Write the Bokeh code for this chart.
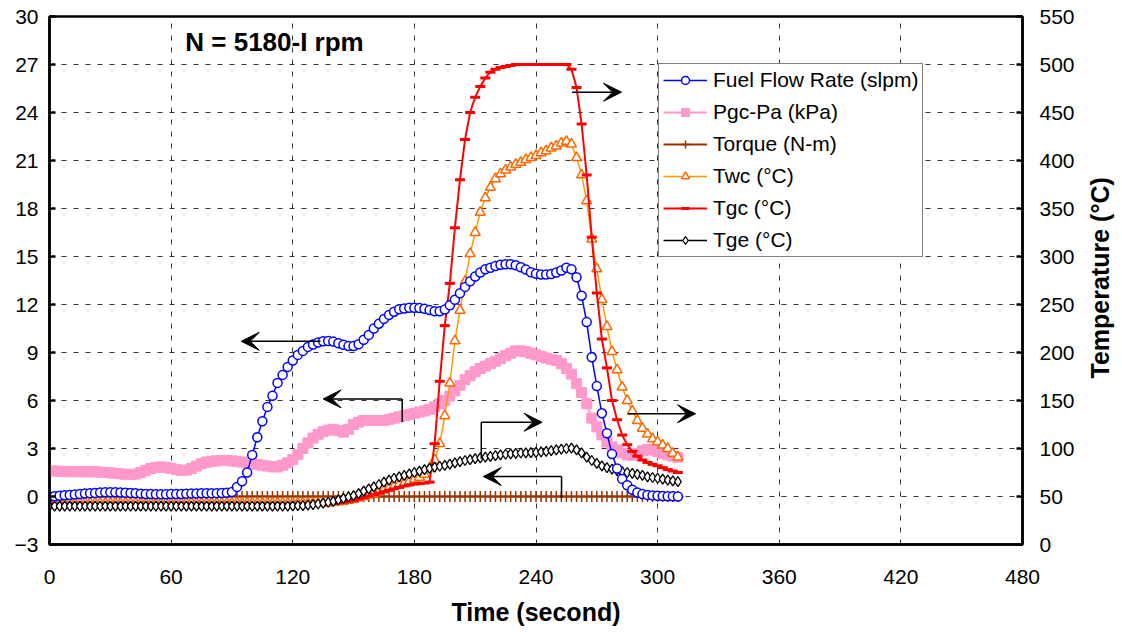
from math import pi
from bokeh.plotting import figure
from bokeh.layouts import row
from bokeh.models import (Range1d, LinearAxis, FixedTicker, Legend, LegendItem,
                          Label, Arrow, VeeHead)
from bokeh.embed import file_html
from bokeh.resources import INLINE

# ---------------- data (sampled every 2.5 s) ----------------
time_s = [
    0, 2.5, 5, 7.5, 10, 12.5, 15, 17.5, 20, 22.5,
    25, 27.5, 30, 32.5, 35, 37.5, 40, 42.5, 45, 47.5,
    50, 52.5, 55, 57.5, 60, 62.5, 65, 67.5, 70, 72.5,
    75, 77.5, 80, 82.5, 85, 87.5, 90, 92.5, 95, 97.5,
    100, 102.5, 105, 107.5, 110, 112.5, 115, 117.5, 120, 122.5,
    125, 127.5, 130, 132.5, 135, 137.5, 140, 142.5, 145, 147.5,
    150, 152.5, 155, 157.5, 160, 162.5, 165, 167.5, 170, 172.5,
    175, 177.5, 180, 182.5, 185, 187.5, 190, 192.5, 195, 197.5,
    200, 202.5, 205, 207.5, 210, 212.5, 215, 217.5, 220, 222.5,
    225, 227.5, 230, 232.5, 235, 237.5, 240, 242.5, 245, 247.5,
    250, 252.5, 255, 257.5, 260, 262.5, 265, 267.5, 270, 272.5,
    275, 277.5, 280, 282.5, 285, 287.5, 290, 292.5, 295, 297.5,
    300, 302.5, 305, 307.5, 310]

fuel_flow_slpm = [
    0.00, 0.02, 0.05, 0.08, 0.10, 0.12, 0.15, 0.18, 0.20, 0.22,
    0.25, 0.26, 0.27, 0.26, 0.25, 0.24, 0.22, 0.20, 0.18, 0.16,
    0.15, 0.14, 0.14, 0.14, 0.15, 0.15, 0.16, 0.17, 0.18, 0.19,
    0.20, 0.20, 0.20, 0.21, 0.22, 0.24, 0.28, 0.60, 0.95, 1.50,
    2.60, 3.70, 4.70, 5.60, 6.30, 7.10, 7.60, 8.10, 8.50, 8.85,
    9.10, 9.35, 9.50, 9.62, 9.70, 9.72, 9.68, 9.58, 9.48, 9.40,
    9.40, 9.52, 9.80, 10.10, 10.50, 10.80, 11.10, 11.35, 11.55, 11.70,
    11.75, 11.80, 11.80, 11.78, 11.73, 11.65, 11.58, 11.58, 11.68, 11.95,
    12.30, 12.70, 13.10, 13.45, 13.75, 14.00, 14.20, 14.30, 14.40, 14.48,
    14.52, 14.52, 14.45, 14.33, 14.18, 14.02, 13.92, 13.88, 13.87, 13.90,
    14.00, 14.13, 14.30, 14.20, 13.70, 12.55, 10.90, 8.70, 6.90, 5.20,
    3.95, 2.65, 1.75, 1.10, 0.70, 0.42, 0.25, 0.15, 0.10, 0.07,
    0.05, 0.03, 0.02, 0.01, 0.00]

pgc_pa_kpa = [
    1.60, 1.59, 1.58, 1.57, 1.55, 1.55, 1.55, 1.55, 1.55, 1.55,
    1.52, 1.50, 1.48, 1.45, 1.42, 1.39, 1.38, 1.40, 1.50, 1.62,
    1.75, 1.82, 1.85, 1.82, 1.75, 1.68, 1.62, 1.65, 1.75, 1.90,
    2.05, 2.15, 2.20, 2.23, 2.25, 2.25, 2.22, 2.20, 2.15, 2.10,
    2.05, 2.00, 1.95, 1.90, 1.85, 1.85, 1.95, 2.10, 2.30, 2.62,
    3.00, 3.35, 3.65, 3.88, 4.05, 4.15, 4.20, 4.12, 4.02, 4.20,
    4.50, 4.65, 4.75, 4.75, 4.75, 4.75, 4.75, 4.82, 4.90, 4.98,
    5.05, 5.12, 5.20, 5.28, 5.35, 5.45, 5.60, 5.78, 6.00, 6.28,
    6.60, 6.95, 7.30, 7.55, 7.80, 8.00, 8.15, 8.30, 8.45, 8.62,
    8.80, 8.95, 9.10, 9.10, 9.05, 8.95, 8.85, 8.75, 8.65, 8.58,
    8.50, 8.30, 8.00, 7.65, 7.05, 6.50, 5.80, 4.90, 4.35, 3.85,
    3.40, 3.10, 2.90, 2.72, 2.60, 2.58, 2.70, 2.85, 2.95, 2.90,
    2.80, 2.70, 2.60, 2.52, 2.45]

torque_nm = [
    0.0, 0.0, 0.0, 0.0, 0.0, 0.0, 0.0, 0.0, 0.0, 0.0,
    0.0, 0.0, 0.0, 0.0, 0.0, 0.0, 0.0, 0.0, 0.0, 0.0,
    0.0, 0.0, 0.0, 0.0, 0.0, 0.0, 0.0, 0.0, 0.0, 0.0,
    0.0, 0.0, 0.0, 0.0, 0.0, 0.0, 0.0, 0.0, 0.0, 0.0,
    0.0, 0.0, 0.0, 0.0, 0.0, 0.0, 0.0, 0.0, 0.0, 0.0,
    0.0, 0.0, 0.0, 0.0, 0.0, 0.0, 0.0, 0.0, 0.0, 0.0,
    0.0, 0.0, 0.0, 0.0, 0.0, 0.0, 0.0, 0.0, 0.0, 0.0,
    0.0, 0.0, 0.0, 0.0, 0.0, 0.0, 0.0, 0.0, 0.0, 0.0,
    0.0, 0.0, 0.0, 0.0, 0.0, 0.0, 0.0, 0.0, 0.0, 0.0,
    0.0, 0.0, 0.0, 0.0, 0.0, 0.0, 0.0, 0.0, 0.0, 0.0,
    0.0, 0.0, 0.0, 0.0, 0.0, 0.0, 0.0, 0.0, 0.0, 0.0,
    0.0, 0.0, 0.0, 0.0, 0.0, 0.0, 0.0, 0.0, 0.0, 0.0,
    0.0, 0.0, 0.0, 0.0, 0.0]

twc_c = [
    43, 43, 43, 43, 43, 43, 43, 43, 43, 43,
    43, 43, 43, 43, 43, 43, 43, 43, 43, 43,
    43, 43, 43, 43, 43, 43, 43, 43, 43, 43,
    43, 43, 43, 43, 43, 43, 43, 43, 43, 43,
    43, 43, 43, 43, 43, 43, 43, 43, 43, 43,
    43, 43, 43, 43, 43, 43, 44, 44.5, 45, 46,
    47, 48.5, 50, 51.5, 53, 55, 57, 59, 61, 62.5,
    64, 66, 68, 70, 73, 79, 88, 105, 134, 168,
    212, 244, 274, 303, 325, 346, 361, 372, 381, 386,
    390, 393, 396, 398, 401, 403, 405, 408, 410, 413,
    415, 418, 420, 417, 403, 385, 358, 318, 287, 255,
    227, 201, 182, 164, 150, 139, 129, 121, 115, 110,
    107, 103.5, 100, 95, 91]

tgc_c = [
    42, 42, 42, 42, 42, 42, 42, 42, 42, 42,
    42, 42, 42, 42, 42, 42, 42, 42, 42, 42,
    42, 42, 42, 42, 42, 42, 42, 42, 42, 42,
    42, 42, 42, 42, 42, 42, 42, 42, 42, 42,
    42, 42, 42, 42, 42, 42, 42, 42, 42, 42,
    42, 42, 42, 42, 42, 42.5, 43, 43.5, 44, 45,
    46, 47.5, 49, 50.5, 52, 53.5, 55, 56.5, 58, 59.5,
    61, 62, 63, 63.5, 64, 65, 105, 170, 228, 272,
    330, 380, 422, 450, 466, 477, 486, 492, 495, 497,
    498, 499, 500, 500, 500, 500, 500, 500, 500, 500,
    500, 500, 500, 495, 476, 438, 385, 320, 262, 214,
    184, 150, 130, 114, 104, 97, 92, 88, 85.5, 83.5,
    82, 80, 78, 76.5, 75]

tge_c = [
    40, 40, 40, 40, 40, 40, 40, 40, 40, 40,
    40, 40, 40, 40, 40, 40, 40, 40, 40, 40,
    40, 40, 40, 40, 40, 40, 40, 40, 40, 40,
    40, 40, 40, 40, 40, 40, 40, 40, 40, 40,
    40, 40, 40, 40, 40, 40, 40, 40, 40.3, 40.4,
    40.6, 41, 41.5, 42.2, 43, 44, 45, 46.5, 48, 49.5,
    51, 53, 55.5, 58, 60, 62.5, 65, 67, 69, 70.5,
    72, 73.5, 75, 76.5, 78, 79.3, 80.5, 81.5, 82.5, 83.8,
    85, 86.3, 87.5, 88.5, 89.5, 90.3, 91, 91.8, 92.5, 93.3,
    94, 94.5, 95, 95.3, 95.5, 95.8, 96, 96.5, 97, 97.8,
    98.5, 99.3, 100, 100.5, 98.5, 95.5, 91, 87.5, 84.5, 82,
    80, 78.5, 77, 76, 75, 74, 73, 72, 70.5, 69.8,
    69, 68, 67, 66.3, 65.5]

x_ticks = [0, 60, 120, 180, 240, 300, 360, 420, 480]
left_ticks = [-3, 0, 3, 6, 9, 12, 15, 18, 21, 24, 27, 30]
temp_ticks = [0, 50, 100, 150, 200, 250, 300, 350, 400, 450, 500, 550]

FONT = "Liberation Sans"

# ---------------- main figure ----------------
p = figure(width=1080, height=630,
           x_range=Range1d(0, 480), y_range=Range1d(-3, 30),
           output_backend="svg", toolbar_location=None,
           min_border_left=49, min_border_right=58, min_border_top=16, min_border_bottom=86,
           background_fill_color="white", border_fill_color="white",
           outline_line_color="black", outline_line_width=2.5)
p.extra_y_ranges = {"temp": Range1d(0, 550)}

p.xaxis.ticker = FixedTicker(ticks=x_ticks)
p.yaxis.ticker = FixedTicker(ticks=left_ticks)
raxis = LinearAxis(y_range_name="temp", ticker=FixedTicker(ticks=temp_ticks))
p.add_layout(raxis, "right")

for ax in [p.xaxis[0], p.yaxis[0], raxis]:
    ax.axis_line_width = 2.5
    ax.axis_line_color = "black"
    ax.major_tick_line_color = "black"
    ax.major_tick_line_width = 2.5
    ax.major_tick_out = 0
    ax.major_tick_in = 6
    ax.minor_tick_line_color = None
    ax.major_label_text_font = FONT
    ax.major_label_text_font_size = "21px"
    ax.major_label_text_color = "black"

p.xaxis.major_tick_in = 0
p.xaxis.major_label_standoff = 25
p.yaxis[0].major_label_standoff = 11
raxis.major_label_standoff = 17
p.xaxis.axis_label = "Time (second)"
p.xaxis.axis_label_text_font = FONT
p.xaxis.axis_label_text_font_size = "25px"
p.xaxis.axis_label_text_font_style = "bold"
p.xaxis.axis_label_text_color = "black"
p.xaxis.axis_label_standoff = 11

for g in [p.xgrid[0], p.ygrid[0]]:
    g.grid_line_color = "#333333"
    g.grid_line_dash = "5 7"
    g.grid_line_width = 1

# ---------------- series ----------------
r_pgc_l = p.line(time_s, pgc_pa_kpa, line_color="#FF99CC", line_width=2)
r_pgc_m = p.scatter(time_s, pgc_pa_kpa, marker="square", size=10,
                    fill_color="#FF99CC", line_color="#FF99CC")

r_tq_l = p.line(time_s, torque_nm, line_color="#993300", line_width=2)
r_tq_m = p.scatter(time_s, torque_nm, marker="cross", size=11,
                   line_color="#993300", line_width=1.5)

r_twc_l = p.line(time_s, twc_c, y_range_name="temp", line_color="#FF9900", line_width=1.5)
r_twc_m = p.scatter(time_s, twc_c, y_range_name="temp", marker="triangle", size=10,
                    fill_color="white", line_color="#FF6600", line_width=1.5)

r_tgc_l = p.line(time_s, tgc_c, y_range_name="temp", line_color="#FF0000", line_width=2)
r_tgc_m = p.scatter(time_s, tgc_c, y_range_name="temp", marker="dash", size=10,
                    line_color="#FF0000", line_width=3)

r_tge_l = p.line(time_s, tge_c, y_range_name="temp", line_color="black", line_width=1.5)
r_tge_m = p.scatter(time_s, tge_c, y_range_name="temp", marker="diamond", size=10,
                    fill_color="white", line_color="black", line_width=1.3)

r_ff_l = p.line(time_s, fuel_flow_slpm, line_color="#0000FF", line_width=1.5)
r_ff_m = p.scatter(time_s, fuel_flow_slpm, marker="circle", size=9,
                   fill_color="white", line_color="#0000FF", line_width=1.5)

legend = Legend(items=[
    LegendItem(label="Fuel Flow Rate (slpm)", renderers=[r_ff_l, r_ff_m]),
    LegendItem(label="Pgc-Pa (kPa)", renderers=[r_pgc_l, r_pgc_m]),
    LegendItem(label="Torque (N-m)", renderers=[r_tq_l, r_tq_m]),
    LegendItem(label="Twc (°C)", renderers=[r_twc_l, r_twc_m]),
    LegendItem(label="Tgc (°C)", renderers=[r_tgc_l, r_tgc_m]),
    LegendItem(label="Tge (°C)", renderers=[r_tge_l, r_tge_m]),
], location=(609, 287))
legend.border_line_color = "black"
legend.border_line_width = 1.5
legend.background_fill_color = "white"
legend.background_fill_alpha = 1.0
legend.label_text_font = FONT
legend.label_text_font_size = "21px"
legend.label_text_color = "black"
legend.glyph_width = 44
legend.glyph_height = 20
legend.label_height = 20
legend.spacing = 8
legend.padding = 4
legend.margin = 0
legend.label_standoff = 6
p.add_layout(legend, "center")

# ---------------- annotations ----------------
def arrow(x0, y0, x1, y1, head=True):
    end = VeeHead(size=18, fill_color="black", line_color="black") if head else None
    p.add_layout(Arrow(end=end, x_start=x0, y_start=y0, x_end=x1, y_end=y1,
                       line_color="black", line_width=1.5))

arrow(133.7, 9.7, 94.6, 9.7)                 # fuel flow -> left axis
arrow(174, 4.65, 174, 6.1, head=False)       # pgc leader
arrow(174, 6.1, 135, 6.1)
arrow(257.8, 25.27, 282.2, 25.27)            # Tgc -> right axis
arrow(285.3, 5.17, 318.7, 5.17)              # Twc -> right axis
arrow(213, 2.35, 213, 4.64, head=False)      # Tge leader
arrow(213, 4.64, 243, 4.64)
arrow(252.6, -0.1, 252.6, 1.25, head=False)  # torque leader
arrow(252.6, 1.25, 214, 1.25)

p.add_layout(Label(x=111, y=28.4, text="N = 5180-I rpm", text_align="center",
                   text_baseline="middle", text_font=FONT, text_font_size="26px",
                   text_font_style="bold", text_color="black"))

# ---------------- right axis title (rotated, reads bottom-to-top) ----------------
p2 = figure(width=42, height=630, x_range=Range1d(0, 1), y_range=Range1d(0, 1),
            output_backend="svg", toolbar_location=None,
            x_axis_location=None, y_axis_location=None,
            min_border=0, min_border_left=0, min_border_right=0,
            min_border_top=0, min_border_bottom=0,
            outline_line_color=None, background_fill_color="white",
            border_fill_color="white")
p2.grid.visible = False
p2.add_layout(Label(x=0.476, y=0.505, text="Temperature (°C)", angle=pi / 2,
                    text_align="center", text_baseline="middle", text_font=FONT,
                    text_font_size="25px", text_font_style="bold", text_color="black"))

layout = row(p, p2, spacing=0)
open("out.html", "w").write(file_html(layout, INLINE))
